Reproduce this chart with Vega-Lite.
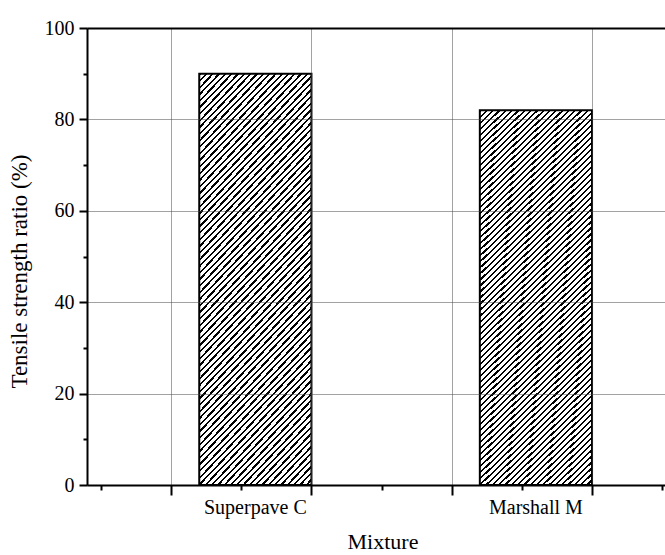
{
  "$schema": "https://vega.github.io/schema/vega-lite/v6.json",
  "width": 578,
  "height": 457,
  "autosize": {"type": "none"},
  "padding": {"left": 87, "top": 28, "right": 0, "bottom": 70},
  "background": "white",
  "config": {
    "view": {"stroke": null},
    "font": "Liberation Serif",
    "scale": {"continuousPadding": 0},
    "axis": {"domainColor": "black", "tickColor": "black", "labelColor": "black", "titleColor": "black", "titleFontWeight": "normal", "titleFont": "Liberation Serif", "labelFont": "Liberation Serif"}
  },
  "data": {"values": [
    {"mixture": "Superpave C", "position": 0.6, "ratio": 90},
    {"mixture": "Marshall M", "position": 2.6, "ratio": 82}
  ]},
  "layer": [
    {
      "mark": {
        "type": "bar", "orient": "vertical", "width": 112.2, "stroke": "black", "strokeWidth": 2,
        "fill": {"gradient": "linear", "x1": 0, "y1": 0, "x2": 0.34, "y2": 1.1888, "stops": [
{"offset":0,"color":"#000"},{"offset":0.0045,"color":"#000"},{"offset":0.0045,"color":"#fff"},{"offset":0.0125,"color":"#fff"},
{"offset":0.0125,"color":"#000"},{"offset":0.017,"color":"#000"},{"offset":0.017,"color":"#fff"},{"offset":0.025,"color":"#fff"},
{"offset":0.025,"color":"#000"},{"offset":0.0295,"color":"#000"},{"offset":0.0295,"color":"#fff"},{"offset":0.0375,"color":"#fff"},
{"offset":0.0375,"color":"#000"},{"offset":0.042,"color":"#000"},{"offset":0.042,"color":"#fff"},{"offset":0.05,"color":"#fff"},
{"offset":0.05,"color":"#000"},{"offset":0.0545,"color":"#000"},{"offset":0.0545,"color":"#fff"},{"offset":0.0625,"color":"#fff"},
{"offset":0.0625,"color":"#000"},{"offset":0.067,"color":"#000"},{"offset":0.067,"color":"#fff"},{"offset":0.075,"color":"#fff"},
{"offset":0.075,"color":"#000"},{"offset":0.0795,"color":"#000"},{"offset":0.0795,"color":"#fff"},{"offset":0.0875,"color":"#fff"},
{"offset":0.0875,"color":"#000"},{"offset":0.092,"color":"#000"},{"offset":0.092,"color":"#fff"},{"offset":0.1,"color":"#fff"},
{"offset":0.1,"color":"#000"},{"offset":0.1045,"color":"#000"},{"offset":0.1045,"color":"#fff"},{"offset":0.1125,"color":"#fff"},
{"offset":0.1125,"color":"#000"},{"offset":0.117,"color":"#000"},{"offset":0.117,"color":"#fff"},{"offset":0.125,"color":"#fff"},
{"offset":0.125,"color":"#000"},{"offset":0.1295,"color":"#000"},{"offset":0.1295,"color":"#fff"},{"offset":0.1375,"color":"#fff"},
{"offset":0.1375,"color":"#000"},{"offset":0.142,"color":"#000"},{"offset":0.142,"color":"#fff"},{"offset":0.15,"color":"#fff"},
{"offset":0.15,"color":"#000"},{"offset":0.1545,"color":"#000"},{"offset":0.1545,"color":"#fff"},{"offset":0.1625,"color":"#fff"},
{"offset":0.1625,"color":"#000"},{"offset":0.167,"color":"#000"},{"offset":0.167,"color":"#fff"},{"offset":0.175,"color":"#fff"},
{"offset":0.175,"color":"#000"},{"offset":0.1795,"color":"#000"},{"offset":0.1795,"color":"#fff"},{"offset":0.1875,"color":"#fff"},
{"offset":0.1875,"color":"#000"},{"offset":0.192,"color":"#000"},{"offset":0.192,"color":"#fff"},{"offset":0.2,"color":"#fff"},
{"offset":0.2,"color":"#000"},{"offset":0.2045,"color":"#000"},{"offset":0.2045,"color":"#fff"},{"offset":0.2125,"color":"#fff"},
{"offset":0.2125,"color":"#000"},{"offset":0.217,"color":"#000"},{"offset":0.217,"color":"#fff"},{"offset":0.225,"color":"#fff"},
{"offset":0.225,"color":"#000"},{"offset":0.2295,"color":"#000"},{"offset":0.2295,"color":"#fff"},{"offset":0.2375,"color":"#fff"},
{"offset":0.2375,"color":"#000"},{"offset":0.242,"color":"#000"},{"offset":0.242,"color":"#fff"},{"offset":0.25,"color":"#fff"},
{"offset":0.25,"color":"#000"},{"offset":0.2545,"color":"#000"},{"offset":0.2545,"color":"#fff"},{"offset":0.2625,"color":"#fff"},
{"offset":0.2625,"color":"#000"},{"offset":0.267,"color":"#000"},{"offset":0.267,"color":"#fff"},{"offset":0.275,"color":"#fff"},
{"offset":0.275,"color":"#000"},{"offset":0.2795,"color":"#000"},{"offset":0.2795,"color":"#fff"},{"offset":0.2875,"color":"#fff"},
{"offset":0.2875,"color":"#000"},{"offset":0.292,"color":"#000"},{"offset":0.292,"color":"#fff"},{"offset":0.3,"color":"#fff"},
{"offset":0.3,"color":"#000"},{"offset":0.3045,"color":"#000"},{"offset":0.3045,"color":"#fff"},{"offset":0.3125,"color":"#fff"},
{"offset":0.3125,"color":"#000"},{"offset":0.317,"color":"#000"},{"offset":0.317,"color":"#fff"},{"offset":0.325,"color":"#fff"},
{"offset":0.325,"color":"#000"},{"offset":0.3295,"color":"#000"},{"offset":0.3295,"color":"#fff"},{"offset":0.3375,"color":"#fff"},
{"offset":0.3375,"color":"#000"},{"offset":0.342,"color":"#000"},{"offset":0.342,"color":"#fff"},{"offset":0.35,"color":"#fff"},
{"offset":0.35,"color":"#000"},{"offset":0.3545,"color":"#000"},{"offset":0.3545,"color":"#fff"},{"offset":0.3625,"color":"#fff"},
{"offset":0.3625,"color":"#000"},{"offset":0.367,"color":"#000"},{"offset":0.367,"color":"#fff"},{"offset":0.375,"color":"#fff"},
{"offset":0.375,"color":"#000"},{"offset":0.3795,"color":"#000"},{"offset":0.3795,"color":"#fff"},{"offset":0.3875,"color":"#fff"},
{"offset":0.3875,"color":"#000"},{"offset":0.392,"color":"#000"},{"offset":0.392,"color":"#fff"},{"offset":0.4,"color":"#fff"},
{"offset":0.4,"color":"#000"},{"offset":0.4045,"color":"#000"},{"offset":0.4045,"color":"#fff"},{"offset":0.4125,"color":"#fff"},
{"offset":0.4125,"color":"#000"},{"offset":0.417,"color":"#000"},{"offset":0.417,"color":"#fff"},{"offset":0.425,"color":"#fff"},
{"offset":0.425,"color":"#000"},{"offset":0.4295,"color":"#000"},{"offset":0.4295,"color":"#fff"},{"offset":0.4375,"color":"#fff"},
{"offset":0.4375,"color":"#000"},{"offset":0.442,"color":"#000"},{"offset":0.442,"color":"#fff"},{"offset":0.45,"color":"#fff"},
{"offset":0.45,"color":"#000"},{"offset":0.4545,"color":"#000"},{"offset":0.4545,"color":"#fff"},{"offset":0.4625,"color":"#fff"},
{"offset":0.4625,"color":"#000"},{"offset":0.467,"color":"#000"},{"offset":0.467,"color":"#fff"},{"offset":0.475,"color":"#fff"},
{"offset":0.475,"color":"#000"},{"offset":0.4795,"color":"#000"},{"offset":0.4795,"color":"#fff"},{"offset":0.4875,"color":"#fff"},
{"offset":0.4875,"color":"#000"},{"offset":0.492,"color":"#000"},{"offset":0.492,"color":"#fff"},{"offset":0.5,"color":"#fff"},
{"offset":0.5,"color":"#000"},{"offset":0.5045,"color":"#000"},{"offset":0.5045,"color":"#fff"},{"offset":0.5125,"color":"#fff"},
{"offset":0.5125,"color":"#000"},{"offset":0.517,"color":"#000"},{"offset":0.517,"color":"#fff"},{"offset":0.525,"color":"#fff"},
{"offset":0.525,"color":"#000"},{"offset":0.5295,"color":"#000"},{"offset":0.5295,"color":"#fff"},{"offset":0.5375,"color":"#fff"},
{"offset":0.5375,"color":"#000"},{"offset":0.542,"color":"#000"},{"offset":0.542,"color":"#fff"},{"offset":0.55,"color":"#fff"},
{"offset":0.55,"color":"#000"},{"offset":0.5545,"color":"#000"},{"offset":0.5545,"color":"#fff"},{"offset":0.5625,"color":"#fff"},
{"offset":0.5625,"color":"#000"},{"offset":0.567,"color":"#000"},{"offset":0.567,"color":"#fff"},{"offset":0.575,"color":"#fff"},
{"offset":0.575,"color":"#000"},{"offset":0.5795,"color":"#000"},{"offset":0.5795,"color":"#fff"},{"offset":0.5875,"color":"#fff"},
{"offset":0.5875,"color":"#000"},{"offset":0.592,"color":"#000"},{"offset":0.592,"color":"#fff"},{"offset":0.6,"color":"#fff"},
{"offset":0.6,"color":"#000"},{"offset":0.6045,"color":"#000"},{"offset":0.6045,"color":"#fff"},{"offset":0.6125,"color":"#fff"},
{"offset":0.6125,"color":"#000"},{"offset":0.617,"color":"#000"},{"offset":0.617,"color":"#fff"},{"offset":0.625,"color":"#fff"},
{"offset":0.625,"color":"#000"},{"offset":0.6295,"color":"#000"},{"offset":0.6295,"color":"#fff"},{"offset":0.6375,"color":"#fff"},
{"offset":0.6375,"color":"#000"},{"offset":0.642,"color":"#000"},{"offset":0.642,"color":"#fff"},{"offset":0.65,"color":"#fff"},
{"offset":0.65,"color":"#000"},{"offset":0.6545,"color":"#000"},{"offset":0.6545,"color":"#fff"},{"offset":0.6625,"color":"#fff"},
{"offset":0.6625,"color":"#000"},{"offset":0.667,"color":"#000"},{"offset":0.667,"color":"#fff"},{"offset":0.675,"color":"#fff"},
{"offset":0.675,"color":"#000"},{"offset":0.6795,"color":"#000"},{"offset":0.6795,"color":"#fff"},{"offset":0.6875,"color":"#fff"},
{"offset":0.6875,"color":"#000"},{"offset":0.692,"color":"#000"},{"offset":0.692,"color":"#fff"},{"offset":0.7,"color":"#fff"},
{"offset":0.7,"color":"#000"},{"offset":0.7045,"color":"#000"},{"offset":0.7045,"color":"#fff"},{"offset":0.7125,"color":"#fff"},
{"offset":0.7125,"color":"#000"},{"offset":0.717,"color":"#000"},{"offset":0.717,"color":"#fff"},{"offset":0.725,"color":"#fff"},
{"offset":0.725,"color":"#000"},{"offset":0.7295,"color":"#000"},{"offset":0.7295,"color":"#fff"},{"offset":0.7375,"color":"#fff"},
{"offset":0.7375,"color":"#000"},{"offset":0.742,"color":"#000"},{"offset":0.742,"color":"#fff"},{"offset":0.75,"color":"#fff"},
{"offset":0.75,"color":"#000"},{"offset":0.7545,"color":"#000"},{"offset":0.7545,"color":"#fff"},{"offset":0.7625,"color":"#fff"},
{"offset":0.7625,"color":"#000"},{"offset":0.767,"color":"#000"},{"offset":0.767,"color":"#fff"},{"offset":0.775,"color":"#fff"},
{"offset":0.775,"color":"#000"},{"offset":0.7795,"color":"#000"},{"offset":0.7795,"color":"#fff"},{"offset":0.7875,"color":"#fff"},
{"offset":0.7875,"color":"#000"},{"offset":0.792,"color":"#000"},{"offset":0.792,"color":"#fff"},{"offset":0.8,"color":"#fff"},
{"offset":0.8,"color":"#000"},{"offset":0.8045,"color":"#000"},{"offset":0.8045,"color":"#fff"},{"offset":0.8125,"color":"#fff"},
{"offset":0.8125,"color":"#000"},{"offset":0.817,"color":"#000"},{"offset":0.817,"color":"#fff"},{"offset":0.825,"color":"#fff"},
{"offset":0.825,"color":"#000"},{"offset":0.8295,"color":"#000"},{"offset":0.8295,"color":"#fff"},{"offset":0.8375,"color":"#fff"},
{"offset":0.8375,"color":"#000"},{"offset":0.842,"color":"#000"},{"offset":0.842,"color":"#fff"},{"offset":0.85,"color":"#fff"},
{"offset":0.85,"color":"#000"},{"offset":0.8545,"color":"#000"},{"offset":0.8545,"color":"#fff"},{"offset":0.8625,"color":"#fff"},
{"offset":0.8625,"color":"#000"},{"offset":0.867,"color":"#000"},{"offset":0.867,"color":"#fff"},{"offset":0.875,"color":"#fff"},
{"offset":0.875,"color":"#000"},{"offset":0.8795,"color":"#000"},{"offset":0.8795,"color":"#fff"},{"offset":0.8875,"color":"#fff"},
{"offset":0.8875,"color":"#000"},{"offset":0.892,"color":"#000"},{"offset":0.892,"color":"#fff"},{"offset":0.9,"color":"#fff"},
{"offset":0.9,"color":"#000"},{"offset":0.9045,"color":"#000"},{"offset":0.9045,"color":"#fff"},{"offset":0.9125,"color":"#fff"},
{"offset":0.9125,"color":"#000"},{"offset":0.917,"color":"#000"},{"offset":0.917,"color":"#fff"},{"offset":0.925,"color":"#fff"},
{"offset":0.925,"color":"#000"},{"offset":0.9295,"color":"#000"},{"offset":0.9295,"color":"#fff"},{"offset":0.9375,"color":"#fff"},
{"offset":0.9375,"color":"#000"},{"offset":0.942,"color":"#000"},{"offset":0.942,"color":"#fff"},{"offset":0.95,"color":"#fff"},
{"offset":0.95,"color":"#000"},{"offset":0.9545,"color":"#000"},{"offset":0.9545,"color":"#fff"},{"offset":0.9625,"color":"#fff"},
{"offset":0.9625,"color":"#000"},{"offset":0.967,"color":"#000"},{"offset":0.967,"color":"#fff"},{"offset":0.975,"color":"#fff"},
{"offset":0.975,"color":"#000"},{"offset":0.9795,"color":"#000"},{"offset":0.9795,"color":"#fff"},{"offset":0.9875,"color":"#fff"},
{"offset":0.9875,"color":"#000"},{"offset":0.992,"color":"#000"},{"offset":0.992,"color":"#fff"},{"offset":1,"color":"#fff"}
        ]}
      },
      "encoding": {
        "x": {
          "field": "position", "type": "quantitative",
          "scale": {"domain": [-0.6, 3.52], "nice": false, "zero": false, "padding": 0},
          "axis": {"orient": "bottom", "values": [0, 1, 2, 3], "tickSize": 10, "tickWidth": 2, "labels": false, "domain": true, "domainWidth": 2,
                   "grid": true, "gridColor": "#444", "gridDash": [1, 1], "gridWidth": 1, "zindex": 1,
                   "title": "Mixture", "titleFontSize": 22, "titleX": 295.5, "titleY": 63, "titleBaseline": "alphabetic", "titleAnchor": "middle"}
        },
        "y": {
          "field": "ratio", "type": "quantitative",
          "scale": {"domain": [0, 100], "nice": false, "zero": true},
          "axis": {"orient": "left", "values": [0, 20, 40, 60, 80, 100], "tickSize": 8, "tickWidth": 2, "labelFontSize": 20, "labelPadding": 5,
                   "domain": true, "domainWidth": 2, "grid": true, "gridColor": "#444", "gridDash": [1, 1], "gridWidth": 1, "zindex": 1,
                   "title": "Tensile strength ratio (%)", "titleFontSize": 23, "titleX": -61, "titleY": 243, "titleBaseline": "alphabetic", "titleAngle": 270}
        }
      }
    },
    {
      "mark": {"type": "text", "baseline": "top", "align": "center", "dy": 13, "fontSize": 20, "font": "Liberation Serif", "color": "black"},
      "encoding": {
        "x": {"field": "position", "type": "quantitative", "scale": {"domain": [-0.6, 3.52], "nice": false, "zero": false, "padding": 0}, "axis": null},
        "y": {"datum": 0, "type": "quantitative", "scale": {"domain": [0, 100], "nice": false, "zero": true}, "axis": null},
        "text": {"field": "mixture"}
      }
    },
    {
      "mark": {"type": "point", "opacity": 0},
      "encoding": {
        "x": {"field": "position", "type": "quantitative", "scale": {"domain": [-0.6, 3.52], "nice": false, "zero": false, "padding": 0},
              "axis": {"orient": "bottom", "values": [-0.5, 0.5, 1.5, 2.5, 3.5], "tickSize": 5, "tickWidth": 2, "labels": false, "domain": false, "grid": false, "title": null, "zindex": 1}},
        "y": {"field": "ratio", "type": "quantitative", "scale": {"domain": [0, 100], "nice": false, "zero": true},
              "axis": {"orient": "left", "values": [10, 30, 50, 70, 90], "tickSize": 4, "tickWidth": 2, "labels": false, "domain": false, "grid": false, "title": null, "zindex": 1}}
      }
    },
    {
      "mark": {"type": "point", "opacity": 0},
      "encoding": {
        "x": {"field": "position", "type": "quantitative", "scale": {"domain": [-0.6, 3.52], "nice": false, "zero": false, "padding": 0},
              "axis": {"orient": "top", "ticks": false, "labels": false, "domain": true, "domainWidth": 2, "grid": false, "title": null, "zindex": 1}},
        "y": {"field": "ratio", "type": "quantitative", "scale": {"domain": [0, 100], "nice": false, "zero": true}, "axis": null}
      }
    }
  ],
  "resolve": {"axis": {"x": "independent", "y": "independent"}}
}
